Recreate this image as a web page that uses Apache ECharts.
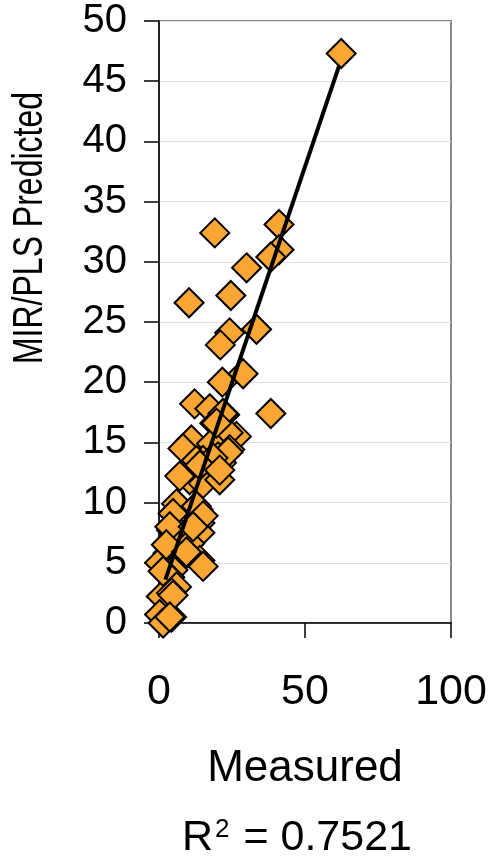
<!DOCTYPE html>
<html>
<head>
<meta charset="utf-8">
<script src="https://cdn.jsdelivr.net/npm/echarts@6/dist/echarts.min.js"></script>
<style>
  html, body { margin: 0; padding: 0; background: #fff; }
  #main { width: 493px; height: 860px; }
</style>
</head>
<body>
<div id="main"></div>
<script>
// values
const measured = [62.4, 19.1, 41.1, 41.1, 38.3, 30.0, 10.3, 24.6, 33.4, 24.2,
  21.0, 28.8, 21.7, 38.3, 12.2, 17.4, 22.5, 19.1, 26.5, 23.7,
  11.1, 8.2, 18.0, 24.2, 20.2, 15.1, 11.7, 21.4, 10.5, 15.1,
  20.8, 13.4, 6.0, 9.4, 14.0, 4.3, 7.1, 14.0, 10.5, 3.1,
  7.1, 14.0, 15.1, 0.2, 4.8, 3.7, 6.0, 0.8, 4.3, 0.2,
  4.3, 1.4, 21.9, 19.7, 23.7, 12.8, 18.5, 14.0, 20.8, 7.1,
  4.8, 12.8, 15.1, 3.7, 11.7, 2.5, 9.4, 1.4, 4.8, 3.7];
const predicted = [47.3, 32.4, 33.1, 31.0, 30.4, 29.5, 26.6, 27.2, 24.4, 24.1,
  23.1, 20.7, 20.0, 17.4, 18.2, 17.8, 17.3, 16.6, 15.5, 15.8,
  15.2, 14.5, 14.9, 14.4, 13.8, 13.5, 12.7, 13.3, 11.9, 11.6,
  11.9, 9.4, 9.9, 8.6, 8.3, 7.7, 7.5, 7.5, 6.6, 5.8,
  5.2, 5.2, 4.7, 5.0, 4.4, 3.8, 3.0, 2.2, 2.5, 0.7,
  0.5, 0.0, 17.4, 16.6, 14.2, 13.5, 13.7, 13.1, 12.7, 12.2,
  9.1, 9.7, 8.9, 8.0, 8.0, 6.5, 5.9, 4.3, 2.3, 0.5];
// fitted line end points
const trendX = [2.2, 61.7];
const trendY = [3.6, 46.3];
const xTicks = [0, 50, 100];
const yTicks = [0, 5, 10, 15, 20, 25, 30, 35, 40, 45, 50];
const r2 = '0.7521';

const points = measured.map((m, i) => [m, predicted[i]]);
const trend = trendX.map((x, i) => [x, trendY[i]]);
const font = 'Liberation Sans, Arial, sans-serif';

const chart = echarts.init(document.getElementById('main'));
chart.setOption({
  animation: false,
  backgroundColor: '#fff',
  grid: { left: 159, right: 42, top: 21, bottom: 237, show: true, borderColor: '#888', borderWidth: 2 },
  xAxis: {
    type: 'value',
    min: xTicks[0], max: xTicks[xTicks.length - 1], interval: 50,
    name: 'Measured', nameLocation: 'middle', nameGap: 124,
    nameTextStyle: { fontFamily: font, fontSize: 44, color: '#000' },
    axisLine: { lineStyle: { color: '#000', width: 1.5 } },
    axisTick: { show: true, length: 15, lineStyle: { color: '#000', width: 1.5 } },
    axisLabel: { fontFamily: font, fontSize: 43, color: '#000', margin: 48 },
    splitLine: { show: false }
  },
  yAxis: {
    type: 'value',
    min: yTicks[0], max: yTicks[yTicks.length - 1], interval: 5,
    axisLine: { show: true, lineStyle: { color: '#000', width: 1.5 } },
    axisTick: { show: true, length: 15, lineStyle: { color: '#000', width: 1.5 } },
    axisLabel: { fontFamily: font, fontSize: 40, color: '#000', margin: 32 },
    splitLine: { show: true, lineStyle: { color: '#e0e0e0', width: 1 } }
  },
  graphic: [
    {
      // axis title, a bit above the middle and wider than tall, like the original
      type: 'text', x: 31, y: 228, rotation: Math.PI / 2, scaleY: 1.3,
      style: {
        text: 'MIR/PLS Predicted', fontSize: 32, fontFamily: font, fill: '#000',
        align: 'center', verticalAlign: 'middle'
      }
    },
    {
      type: 'text', x: 297, y: 817,
      style: {
        text: '{b|R}{s|2}{b| = ' + r2 + '}', fill: '#000',
        align: 'center', verticalAlign: 'top',
        rich: {
          b: { fontFamily: font, fontSize: 43, color: '#000', verticalAlign: 'bottom' },
          s: { fontFamily: font, fontSize: 26, color: '#000', verticalAlign: 'top', padding: [0, 2, 16, 2] }
        }
      }
    }
  ],
  series: [
    {
      type: 'scatter',
      data: points,
      symbol: 'diamond',
      symbolSize: 29,
      itemStyle: { color: '#F9A634', borderColor: '#000', borderWidth: 2, opacity: 1 },
      z: 2
    },
    {
      type: 'line',
      data: trend,
      symbol: 'none',
      lineStyle: { color: '#000', width: 4 },
      z: 3
    }
  ]
});
</script>
</body>
</html>
